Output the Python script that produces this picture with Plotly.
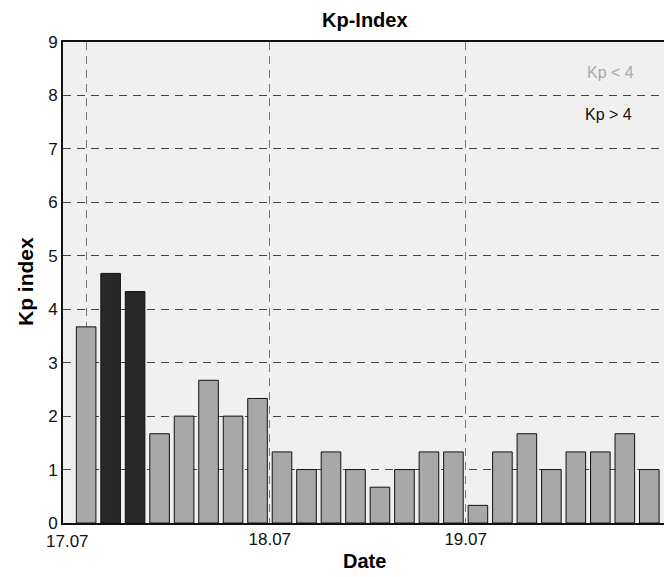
import plotly.graph_objects as go
import pandas as pd

# Data: 3-hourly Kp index values, 17.07 - 19.07
start = "2012-07-17 01:30"
kp_values = [3.67, 4.67, 4.33, 1.67, 2.0, 2.67, 2.0, 2.33,
             1.33, 1.0, 1.33, 1.0, 0.67, 1.0, 1.33, 1.33,
             0.33, 1.33, 1.67, 1.0, 1.33, 1.33, 1.67, 1.0]
times = pd.date_range(start=start, periods=len(kp_values), freq="3h")
threshold = 4
tick_vals = ["2012-07-17 01:30", "2012-07-18 00:00", "2012-07-19 00:00"]
tick_text = ["", "18.07", "19.07"]
first_label = "17.07"

colors = ["#282828" if v > threshold else "#a8a8a8" for v in kp_values]

W, H = 664, 577
L, R, T, B = 63, 0, 42, 54
plot_w = W - L - R
plot_h = H - T - B


def px(xp):
    return (xp - L) / plot_w


def py(yp):
    return (H - B - yp) / plot_h


fig = go.Figure()
fig.add_trace(go.Bar(
    x=times, y=kp_values,
    width=3 * 3600 * 1000 * 0.8,
    marker=dict(color=colors, line=dict(color="#111111", width=1)),
    showlegend=False,
))

font = "Liberation Sans, Arial, sans-serif"
fig.update_layout(
    width=W, height=H,
    margin=dict(l=L, r=R, t=T, b=B, autoexpand=False),
    paper_bgcolor="white",
    plot_bgcolor="#f0f0f0",
    font=dict(family=font, color="black"),
)
fig.update_xaxes(
    type="date",
    range=["2012-07-16 22:40", "2012-07-20 00:18"],
    tickvals=tick_vals, ticktext=tick_text,
    tickfont=dict(size=17, family=font, color="#111"),
    ticks="", ticklen=0,
    showgrid=True, gridcolor="#777777", gridwidth=1, griddash="8px,6px",
    showline=True, linecolor="#111111", linewidth=2, mirror=True,
    zeroline=False, automargin=False,
)
fig.update_yaxes(
    range=[0, 9],
    tickvals=list(range(10)),
    tickfont=dict(size=17, family=font, color="#111"),
    ticks="",
    showgrid=True, gridcolor="#444444", gridwidth=1, griddash="8px,6px",
    showline=True, linecolor="#111111", linewidth=2,
    zeroline=False, automargin=False,
)

fig.add_annotation(x=px(365), y=py(20), text="<b>Kp-Index</b>",
                   font=dict(size=20, family=font, color="black"))
fig.add_annotation(x=px(364), y=py(561), text="<b>Date</b>",
                   font=dict(size=20, family=font, color="black"))
fig.add_annotation(x=px(25), y=py(282), text="<b>Kp index</b>", textangle=-90,
                   font=dict(size=21, family=font, color="black"))
fig.add_annotation(x=px(67), y=py(541), text=first_label,
                   font=dict(size=17, family=font, color="#111"))
fig.add_annotation(x=px(610), y=py(73), text="Kp < 4",
                   font=dict(size=16, family=font, color="#aaaaaa"))
fig.add_annotation(x=px(608), y=py(114), text="Kp > 4",
                   font=dict(size=16, family=font, color="#111111"))
fig.update_annotations(xref="paper", yref="paper", showarrow=False,
                       xanchor="center", yanchor="middle")

fig.write_html(
    "out.html",
    config={"displayModeBar": False},
    post_script="document.body.style.margin='0px';document.body.style.overflow='hidden';",
)
